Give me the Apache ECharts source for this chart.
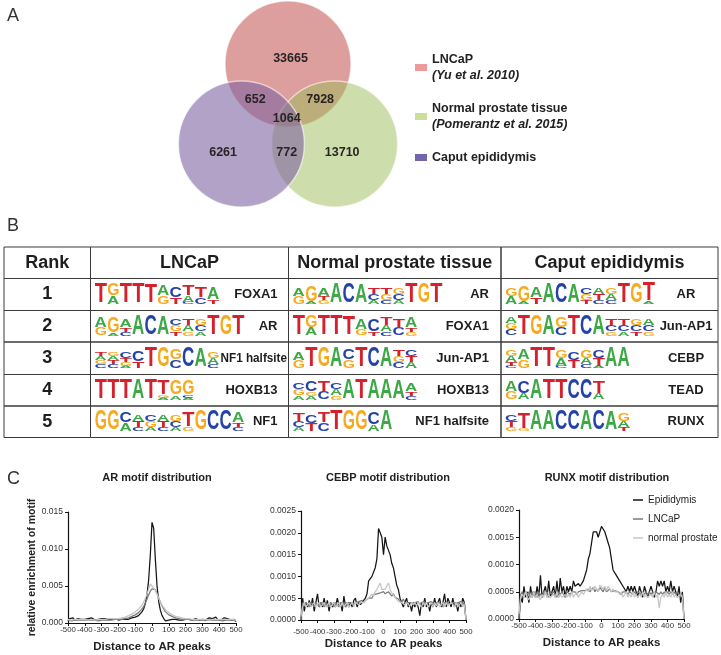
<!DOCTYPE html>
<html><head><meta charset="utf-8">
<script src="https://cdn.jsdelivr.net/npm/echarts@6/dist/echarts.min.js"></script>
<style>html,body{margin:0;padding:0;background:#fff}#c{width:721px;height:655px}</style>
</head><body><div id="c"></div>
<script>
// ---------------- DATA ----------------
// Panel A: Venn diagram
const vennSets = ['LNCaP', 'Normal prostate tissue', 'Caput epididymis'];
const vennRefs = ['(Yu et al. 2010)', '(Pomerantz et al. 2015)', ''];
// regions: LNCaP only, LNCaP∩Caput, LNCaP∩Normal, all three, Caput only, Caput∩Normal, Normal only
const vennRegionCounts = [33665, 652, 7928, 1064, 6261, 772, 13710];

// Panel B: motif table
const tableHeaders = ['Rank', 'LNCaP', 'Normal prostate tissue', 'Caput epididymis'];
const ranks = [1, 2, 3, 4, 5];
const lncapMotifs = ['FOXA1', 'AR', 'NF1 halfsite', 'HOXB13', 'NF1'];
const prostateMotifs = ['AR', 'FOXA1', 'Jun-AP1', 'HOXB13', 'NF1 halfsite'];
const epididymisMotifs = ['AR', 'Jun-AP1', 'CEBP', 'TEAD', 'RUNX'];
// sequence logos: positions separated by spaces, letters top->bottom with height in tenths
const lncapLogos = [
  'T10 G6A4 T10 T10 T9 A5G4 C5T3 T5A3C1 T5C3 A6T2',
  'A5G4 G8A1 A4T2C2 A10 C10 A9 C3G3T2 T3A3G2 G3C3A2 T10 G10 T10',
  'T2A2G2C2 G2A2T2C2 C3T2G2A1 C5T3 T10 G10 G5C4 C10 A9 G3A3C2',
  'T10 T10 T10 A10 T10 T7G1A1 G7A2 G7C1A1',
  'G10 G10 C5A4 A3T3C2 C3G3A2 A3T3C2 G3C3A2 T7G2 G10 C10 C10 A5T2C2'
];
const prostateLogos = [
  'A4G4 G8A1 A4T2G2 A10 C10 A9 T3C3A2 T3G3C2 G3C3A2 T10 G10 T10',
  'T10 G6A4 T10 T10 T9 A5G3 C6T2 T4A3C2 T4C4 A5T2G2',
  'A4G4 T10 G10 A10 C5G4 T10 C10 A10 T3G3C3 C3T3A3',
  'C3G3A2 C5G2A2 T5C4 C3A3G2 A10 T10 A10 A10 A9 A4T2C2',
  'T4C3A2 C4T4 T5C4 T10 G10 G10 C6A3 A10'
];
const epididymisLogos = [
  'G4A4 G8A1 A5T3 A10 C10 A9 C3G3T2 A3T3C2 G3A3C2 T10 G10 T9A1',
  'A3G3C3 T10 G10 A10 G5C4 T10 C10 A10 T3C3G2 T3C3A2 G3C3T2 A3C3G2',
  'G3A3T2C1 A5G4 T10 T10 G4A4C1 C4T4 G4A3C2 C4T4A1 A10 A10',
  'A5G4 C6A3 A10 T10 T10 C10 C10 T6A3',
  'C3T3G2 T8G1 A10 A10 C10 C10 A10 C10 A9 G4A3T2'
];

// Panel C: motif distributions
const distanceBins = [-500,-490,-480,-470,-460,-450,-440,-430,-420,-410,-400,-390,-380,-370,-360,-350,-340,-330,-320,-310,-300,-290,-280,-270,-260,-250,-240,-230,-220,-210,-200,-190,-180,-170,-160,-150,-140,-130,-120,-110,-100,-90,-80,-70,-60,-50,-40,-30,-20,-10,0,10,20,30,40,50,60,70,80,90,100,110,120,130,140,150,160,170,180,190,200,210,220,230,240,250,260,270,280,290,300,310,320,330,340,350,360,370,380,390,400,410,420,430,440,450,460,470,480,490,500];
const lineNames = ['Epididymis', 'LNCaP', 'normal prostate'];
const chartTitles = ['AR motif distribution', 'CEBP motif distribution', 'RUNX motif distribution'];

const arEpididymis = [0.0003,0.0006,0.0005,0.0007,0.0004,0.0005,0.0006,0.0004,0.0005,0.0006,
 0.0005,0.0004,0.0006,0.0005,0.0007,0.0005,0.0004,0.0006,0.0005,0.0004,
 0.0006,0.0005,0.0006,0.0004,0.0005,0.0007,0.0005,0.0004,0.0006,0.0005,
 0.0004,0.0006,0.0005,0.0007,0.0005,0.0006,0.0005,0.0006,0.0007,0.0006,
 0.0008,0.0009,0.0010,0.0012,0.0015,0.0019,0.0026,0.0038,0.0058,0.0092,
 0.0136,0.0128,0.0086,0.0050,0.0029,0.0017,0.0010,0.0006,0.0003,0.0002,
 0.0004,0.0003,0.0005,0.0004,0.0005,0.0006,0.0004,0.0005,0.0004,0.0006,
 0.0005,0.0004,0.0005,0.0006,0.0004,0.0005,0.0006,0.0005,0.0004,0.0006,
 0.0005,0.0006,0.0004,0.0005,0.0007,0.0005,0.0006,0.0005,0.0008,0.0005,
 0.0006,0.0004,0.0006,0.0007,0.0005,0.0006,0.0005,0.0004,0.0006,0.0005,
 0.0002];
const arLNCaP = [0.0004,0.0004,0.0003,0.0004,0.0004,0.0003,0.0004,0.0004,0.0004,0.0003,
 0.0004,0.0004,0.0004,0.0003,0.0004,0.0004,0.0004,0.0004,0.0003,0.0004,
 0.0004,0.0004,0.0004,0.0004,0.0004,0.0005,0.0004,0.0004,0.0005,0.0005,
 0.0005,0.0005,0.0005,0.0006,0.0006,0.0007,0.0007,0.0008,0.0009,0.0010,
 0.0011,0.0012,0.0014,0.0016,0.0019,0.0022,0.0027,0.0032,0.0038,0.0043,
 0.0046,0.0048,0.0045,0.0040,0.0034,0.0028,0.0023,0.0019,0.0015,0.0013,
 0.0011,0.0010,0.0009,0.0008,0.0007,0.0007,0.0006,0.0006,0.0005,0.0005,
 0.0005,0.0005,0.0005,0.0004,0.0004,0.0004,0.0004,0.0004,0.0004,0.0004,
 0.0004,0.0004,0.0004,0.0004,0.0004,0.0003,0.0004,0.0004,0.0004,0.0004,
 0.0004,0.0004,0.0003,0.0004,0.0004,0.0004,0.0004,0.0004,0.0004,0.0004,
 0.0003];
const arNormal = [0.0005,0.0005,0.0004,0.0005,0.0005,0.0004,0.0005,0.0005,0.0005,0.0004,
 0.0005,0.0005,0.0004,0.0005,0.0005,0.0005,0.0004,0.0005,0.0005,0.0005,
 0.0005,0.0005,0.0005,0.0005,0.0006,0.0005,0.0006,0.0006,0.0006,0.0006,
 0.0006,0.0007,0.0007,0.0008,0.0008,0.0009,0.0010,0.0011,0.0012,0.0013,
 0.0015,0.0017,0.0019,0.0021,0.0024,0.0028,0.0033,0.0039,0.0046,0.0053,
 0.0050,0.0047,0.0044,0.0039,0.0033,0.0028,0.0024,0.0021,0.0018,0.0016,
 0.0014,0.0012,0.0011,0.0010,0.0009,0.0008,0.0008,0.0007,0.0007,0.0006,
 0.0006,0.0006,0.0006,0.0005,0.0005,0.0005,0.0005,0.0005,0.0005,0.0005,
 0.0005,0.0005,0.0005,0.0005,0.0004,0.0005,0.0005,0.0005,0.0005,0.0004,
 0.0005,0.0005,0.0005,0.0004,0.0005,0.0005,0.0005,0.0004,0.0005,0.0005,
 0.0004];

const cebpEpididymis = [0.0000,0.0005,0.0002,0.0004,0.0003,0.00045,0.0003,0.0005,0.0002,0.0004,
 0.0006,0.0003,0.0004,0.0003,0.0005,0.0003,0.00045,0.0002,0.0004,0.0003,
 0.0004,0.0003,0.0005,0.00035,0.0004,0.0002,0.00055,0.0003,0.0004,0.0003,
 0.0004,0.0003,0.00045,0.0005,0.0003,0.0004,0.00035,0.0004,0.0004,0.0005,
 0.0006,0.0009,0.0009,0.0010,0.0010,0.0012,0.0014,0.0021,0.0020,0.0019,
 0.0015,0.0019,0.0017,0.0017,0.0015,0.0013,0.0012,0.0010,0.0008,0.0007,
 0.0005,0.0004,0.0003,0.0004,0.0005,0.0003,0.0004,0.0002,0.0004,0.0003,
 0.0004,0.0003,0.0001,0.0004,0.0003,0.0005,0.0003,0.0004,0.0002,0.0004,
 0.0003,0.0005,0.0003,0.0004,0.0005,0.0003,0.0004,0.0006,0.0003,0.0005,
 0.0004,0.0003,0.0005,0.0003,0.0004,0.0002,0.0004,0.0003,0.0005,0.0004,
 0.0000];
const cebpLNCaP = [0.0000,0.0004,0.00035,0.0004,0.0004,0.0003,0.0004,0.00038,0.0003,0.0004,
 0.0004,0.0003,0.0004,0.00042,0.0003,0.0004,0.00038,0.0003,0.0004,0.0004,
 0.0003,0.0004,0.0004,0.0003,0.0004,0.00042,0.00038,0.0003,0.0004,0.0004,
 0.0004,0.00042,0.00035,0.0004,0.0004,0.00042,0.0004,0.00045,0.0004,0.00045,
 0.00048,0.0005,0.00052,0.0005,0.00058,0.00055,0.0006,0.00058,0.00062,0.0006,
 0.00065,0.0006,0.00062,0.00065,0.0006,0.00055,0.0006,0.00052,0.0005,0.00048,
 0.00045,0.0004,0.00048,0.0004,0.00042,0.0004,0.00042,0.0004,0.00035,0.0004,
 0.0004,0.00042,0.00035,0.0004,0.0004,0.00042,0.00035,0.0004,0.0004,0.00042,
 0.0004,0.00035,0.0004,0.00042,0.0004,0.00038,0.0003,0.0004,0.00042,0.0004,
 0.00035,0.0004,0.00042,0.0004,0.00035,0.0004,0.0004,0.00042,0.00035,0.0004,
 0.0000];
const cebpNormal = [0.0001,0.0003,0.0004,0.0003,0.00035,0.0004,0.0003,0.00035,0.0004,0.0003,
 0.0003,0.0004,0.0003,0.00035,0.0004,0.0003,0.0003,0.0004,0.0003,0.00035,
 0.0004,0.0003,0.00035,0.0004,0.0003,0.0004,0.0003,0.00035,0.0004,0.0003,
 0.00035,0.0004,0.0003,0.0004,0.0004,0.00035,0.0004,0.00042,0.0004,0.00045,
 0.00045,0.0005,0.00055,0.0006,0.00055,0.00065,0.0007,0.00068,0.00085,0.0007,
 0.00072,0.0007,0.00078,0.00085,0.0007,0.00062,0.0006,0.00052,0.00048,0.00042,
 0.0004,0.0004,0.00042,0.00035,0.0004,0.0004,0.00032,0.0004,0.00035,0.0004,
 0.00032,0.0004,0.00035,0.0003,0.0004,0.00032,0.0004,0.0003,0.00035,0.0004,
 0.0003,0.0004,0.00032,0.0004,0.0003,0.00035,0.0004,0.0003,0.0004,0.00032,
 0.0003,0.0004,0.00035,0.0003,0.0004,0.0003,0.00035,0.0004,0.0003,0.00035,
 0.0000];

const runxEpididymis = [0.0000,0.0004,0.0003,0.0006,0.0004,0.0005,0.0003,0.0006,0.0004,0.0005,
 0.0004,0.0006,0.0004,0.0008,0.0004,0.0005,0.0006,0.0004,0.0007,0.0004,
 0.0005,0.0006,0.0004,0.0007,0.0004,0.00075,0.0005,0.0006,0.0004,0.0006,
 0.0005,0.0006,0.0005,0.0007,0.0006,0.0006,0.00065,0.0006,0.0006,0.0007,
 0.0007,0.0009,0.0011,0.0012,0.0014,0.0016,0.0016,0.0016,0.0015,0.0016,
 0.0017,0.0017,0.0016,0.0016,0.0014,0.0013,0.0011,0.0009,0.0009,0.0008,
 0.0008,0.0007,0.0007,0.0006,0.0006,0.0005,0.0006,0.0005,0.0006,0.0005,
 0.0006,0.0005,0.0004,0.0006,0.0005,0.0004,0.0006,0.0005,0.0004,0.0005,
 0.0006,0.0005,0.0004,0.0005,0.0007,0.0006,0.0007,0.0006,0.0007,0.0005,
 0.0006,0.0005,0.0007,0.0005,0.0006,0.0005,0.0004,0.0006,0.0003,0.0005,
 0.0000];
const runxLNCaP = [0.0000,0.00045,0.0005,0.0004,0.0005,0.00045,0.0005,0.0004,0.0005,0.00045,
 0.0005,0.0004,0.0005,0.0005,0.0004,0.0005,0.00045,0.0005,0.0004,0.0005,
 0.00045,0.0005,0.0005,0.0004,0.0005,0.00045,0.0005,0.0005,0.0004,0.0005,
 0.0005,0.00045,0.0005,0.0005,0.0005,0.00045,0.0005,0.0005,0.00052,0.0005,
 0.00052,0.0005,0.00055,0.0005,0.00052,0.00058,0.0005,0.00055,0.0005,0.00058,
 0.00055,0.0005,0.00058,0.0005,0.00052,0.00055,0.0005,0.0005,0.00052,0.0005,
 0.0005,0.0005,0.00045,0.0005,0.0005,0.0005,0.00045,0.0005,0.0005,0.00045,
 0.0005,0.00045,0.0005,0.0005,0.00045,0.0005,0.00045,0.0005,0.00045,0.0005,
 0.00045,0.0005,0.00045,0.0005,0.0005,0.00045,0.0005,0.00045,0.0005,0.00045,
 0.0005,0.00045,0.0005,0.00045,0.0005,0.00045,0.0005,0.00045,0.0004,0.00045,
 0.0000];
const runxNormal = [0.0001,0.0004,0.00045,0.0004,0.0005,0.0004,0.00035,0.00045,0.0004,0.0005,
 0.0004,0.00045,0.0004,0.00035,0.00045,0.0004,0.0005,0.0004,0.00045,0.0004,
 0.0004,0.00045,0.0004,0.0005,0.0004,0.00045,0.0004,0.0004,0.00045,0.0004,
 0.00045,0.0004,0.0005,0.0004,0.00045,0.0005,0.0004,0.00045,0.0005,0.00045,
 0.0005,0.00055,0.0005,0.0006,0.00052,0.00055,0.0006,0.00055,0.0005,0.00062,
 0.00065,0.00055,0.0006,0.00052,0.0006,0.00055,0.0005,0.00055,0.0005,0.00052,
 0.0005,0.00045,0.0005,0.0004,0.00045,0.0005,0.0004,0.00045,0.0004,0.0005,
 0.0004,0.00045,0.0004,0.00045,0.0004,0.0005,0.0004,0.00045,0.0004,0.0004,
 0.00045,0.0004,0.0005,0.0004,0.00045,0.0002,0.0004,0.00045,0.0004,0.0005,
 0.0004,0.00045,0.0004,0.0005,0.0004,0.00045,0.0004,0.0004,0.00045,0.0004,
 0.0000];

// ---------------- LAYOUT / STYLE ----------------
const FF = '"Liberation Sans", Arial, Helvetica, sans-serif';
const vennCircleCenters = [[0, 1.27], [0.74, 0], [-0.74, 0]]; // LNCaP, Normal, Caput (unit = radius)
const vennFill = ['rgba(192,80,77,0.55)', 'rgba(155,187,89,0.5)', 'rgba(128,100,162,0.6)'];
const vennLegendColors = ['#ee9a9c', '#cadf9a', '#7466ac'];
const vennLabelPos = [[0.04, 1.35], [-0.52, 0.70], [0.51, 0.70], [-0.02, 0.41], [-1.03, -0.13], [-0.02, -0.13], [0.86, -0.13]];

const colEdges = [0, 86.5, 284.5, 497, 714];
const rowEdges = [0, 31.5, 63.5, 95, 127.5, 159, 190.5];
const labelAnchor = [null, {align: 'right', off: -11}, {align: 'right', off: -12}, {align: 'center', off: -32}];
const LOGO_COLORS = {A: '#3ca846', C: '#2542a8', G: '#f6aa1f', T: '#d6202b'};
const LOGO_ADV = {A: 0.722, C: 0.722, G: 0.778, T: 0.611};
const motifSets = [lncapMotifs, prostateMotifs, epididymisMotifs];
const logoSets = [lncapLogos, prostateLogos, epididymisLogos];
const lineColors = ['#151515', '#7a7a7a', '#c6c6c6'];

const measureCtx = document.createElement('canvas').getContext('2d');
function textWidth(t, font) { measureCtx.font = font; return measureCtx.measureText(t).width; }

function logoElements(str, left, bottom, posW, fullH) {
  const els = [];
  str.split(' ').forEach((tok, j) => {
    const letters = [...tok.matchAll(/([ACGT])(\d+)/g)].map(m => [m[1], +m[2]]);
    let yb = bottom;
    for (let k = letters.length - 1; k >= 0; k--) {
      const L = letters[k][0], h = letters[k][1] / 10 * fullH;
      els.push({
        type: 'text', silent: true,
        x: left + j * posW + posW / 2, y: yb - h / 2,
        scaleX: posW * 0.98 / (LOGO_ADV[L] * 40), scaleY: h / (0.716 * 40),
        style: {text: L, fill: LOGO_COLORS[L], font: 'bold 40px ' + FF, align: 'center', verticalAlign: 'middle'}
      });
      yb -= h;
    }
  });
  return els;
}

function tableRender(params, api) {
  const c = api.value(0), r = api.value(1);
  const p0 = api.coord([colEdges[c], rowEdges[r]]);
  const p1 = api.coord([colEdges[c + 1], rowEdges[r + 1]]);
  const x0 = p0[0], y0 = p0[1], x1 = p1[0], y1 = p1[1];
  const cy = (y0 + y1) / 2;
  const kids = [{type: 'rect', shape: {x: x0, y: y0, width: x1 - x0, height: y1 - y0},
    style: {fill: 'none', stroke: '#3a3a3a', lineWidth: 1}}];
  const bigFont = 'bold 18px ' + FF;
  if (r === 0) {
    kids.push({type: 'text', x: (x0 + x1) / 2, y: cy, style: {text: tableHeaders[c], font: bigFont, fill: '#1e1e1e', align: 'center', verticalAlign: 'middle'}});
  } else if (c === 0) {
    kids.push({type: 'text', x: (x0 + x1) / 2, y: cy, style: {text: String(ranks[r - 1]), font: bigFont, fill: '#1e1e1e', align: 'center', verticalAlign: 'middle'}});
  } else {
    const posW = api.size([12.5, 0])[0];
    const fullH = api.size([0, 20])[1];
    const logo = logoSets[c - 1][r - 1];
    const nPos = logo.split(' ').length;
    const left = x0 + 4;
    kids.push(...logoElements(logo, left, y1 - 6, posW, fullH));
    const logoEnd = left + nPos * posW;
    const label = motifSets[c - 1][r - 1];
    const lf = 'bold 13px ' + FF;
    const w = textWidth(label, lf);
    const an = labelAnchor[c];
    let lx = an.align === 'right' ? x1 + an.off - w : x1 + an.off - w / 2;
    if (lx < logoEnd + 1) lx = logoEnd + 1;
    const avail = x1 - 1.5 - lx;
    const sx = Math.min(1, avail / w);
    kids.push({type: 'text', x: lx, y: cy, scaleX: sx, style: {text: label, font: lf, fill: '#1e1e1e', align: 'left', verticalAlign: 'middle'}});
  }
  return {type: 'group', children: kids};
}

const tableData = [];
for (let r = 0; r <= ranks.length; r++) for (let c = 0; c < tableHeaders.length; c++) tableData.push([c, r]);

// ---------------- CHART GRIDS ----------------
const chartGrids = [
  {left: 68, top: 512, width: 168, height: 111},
  {left: 301, top: 511, width: 165, height: 109},
  {left: 519, top: 510, width: 165, height: 109}
];
const yMax = [0.015, 0.0025, 0.002];
const yInt = [0.005, 0.0005, 0.0005];
const yDec = [3, 4, 4];
const xLabelMargin = [3, 8, 3];
const seriesByChart = [
  [arEpididymis, arLNCaP, arNormal],
  [cebpEpididymis, cebpLNCaP, cebpNormal],
  [runxEpididymis, runxLNCaP, runxNormal]
];

const axisCol = '#111';
const xAxes = [
  {gridIndex: 0, type: 'value', min: -2, max: 2, show: false},
  {gridIndex: 1, type: 'value', min: 0, max: 714, show: false}
];
const yAxes = [
  {gridIndex: 0, type: 'value', min: -1.2, max: 2.25, show: false},
  {gridIndex: 1, type: 'value', min: 0, max: 190.5, inverse: true, show: false}
];
chartGrids.forEach((g, i) => {
  xAxes.push({
    gridIndex: i + 2, type: 'value', min: -500, max: 500, interval: 100,
    axisLine: {onZero: false, lineStyle: {color: axisCol, width: 1.2}},
    axisTick: {show: true, length: 3, lineStyle: {color: axisCol, width: 1}},
    axisLabel: {fontSize: 7.8, color: '#333', margin: xLabelMargin[i], fontFamily: FF, hideOverlap: false, showMinLabel: true, showMaxLabel: true},
    splitLine: {show: false},
    name: 'Distance to AR peaks', nameLocation: 'middle', nameGap: 18,
    nameTextStyle: {fontSize: 11.5, fontWeight: 'bold', color: '#222', fontFamily: FF}
  });
  const ya = {
    gridIndex: i + 2, type: 'value', min: 0, max: yMax[i], interval: yInt[i],
    axisLine: {show: true, onZero: false, lineStyle: {color: axisCol, width: 1.2}},
    axisTick: {show: true, length: 3, lineStyle: {color: axisCol, width: 1}},
    axisLabel: {fontSize: 8.5, color: '#333', margin: 5, fontFamily: FF, showMinLabel: true, showMaxLabel: true, formatter: v => v.toFixed(yDec[i])},
    splitLine: {show: false}
  };
  if (i === 0) {
    ya.name = 'relative enrichment of motif';
    ya.nameLocation = 'middle';
    ya.nameGap = 29;
    ya.nameTextStyle = {fontSize: 10.5, fontWeight: 'bold', color: '#222', fontFamily: FF};
  }
  yAxes.push(ya);
});

// ---------------- SERIES ----------------
const series = [];
vennSets.forEach((s, i) => {
  series.push({
    type: 'custom', name: 'venn' + i, xAxisIndex: 0, yAxisIndex: 0, silent: true,
    itemStyle: {color: vennLegendColors[i]},
    data: [[vennCircleCenters[i][0], vennCircleCenters[i][1], 1]],
    renderItem: (params, api) => {
      const c = api.coord([api.value(0), api.value(1)]);
      const r = api.size([api.value(2), 0])[0];
      return {type: 'circle', shape: {cx: c[0], cy: c[1], r: r},
        style: {fill: vennFill[i], stroke: 'rgba(255,255,255,0.55)', lineWidth: 1.5}};
    }
  });
});
series.push({
  type: 'custom', name: 'vennCounts', xAxisIndex: 0, yAxisIndex: 0, silent: true, z: 5,
  data: vennLabelPos.map((p, i) => [p[0], p[1], vennRegionCounts[i]]),
  renderItem: (params, api) => {
    const c = api.coord([api.value(0), api.value(1)]);
    return {type: 'text', x: c[0], y: c[1], style: {text: String(api.value(2)), font: 'bold 12.5px ' + FF, fill: '#2a2326', align: 'center', verticalAlign: 'middle'}};
  }
});
series.push({
  type: 'custom', name: 'motifTable', xAxisIndex: 1, yAxisIndex: 1, silent: true,
  data: tableData, renderItem: tableRender
});
seriesByChart.forEach((arr, ci) => {
  arr.forEach((vals, si) => {
    series.push({
      type: 'line', name: lineNames[si], xAxisIndex: ci + 2, yAxisIndex: ci + 2,
      data: distanceBins.map((x, k) => [x, vals[k]]),
      symbol: 'none', showSymbol: false, silent: true,
      itemStyle: {color: lineColors[si]},
      lineStyle: {color: lineColors[si], width: 1.25}
    });
  });
});

const option = {
  animation: false,
  backgroundColor: '#ffffff',
  textStyle: {fontFamily: FF},
  title: [
    {text: 'A', left: 2, top: 2, textStyle: {fontSize: 18, fontWeight: 'normal', color: '#333', fontFamily: FF}},
    {text: 'B', left: 2, top: 212, textStyle: {fontSize: 18, fontWeight: 'normal', color: '#333', fontFamily: FF}},
    {text: 'C', left: 2, top: 465, textStyle: {fontSize: 18, fontWeight: 'normal', color: '#333', fontFamily: FF}},
    {text: chartTitles[0], left: 152, top: 467, textAlign: 'center', textStyle: {fontSize: 11, fontWeight: 'bold', color: '#222', fontFamily: FF}},
    {text: chartTitles[1], left: 383, top: 467, textAlign: 'center', textStyle: {fontSize: 11, fontWeight: 'bold', color: '#222', fontFamily: FF}},
    {text: chartTitles[2], left: 602, top: 467, textAlign: 'center', textStyle: {fontSize: 11, fontWeight: 'bold', color: '#222', fontFamily: FF}}
  ],
  legend: [
    {
      data: vennSets.map((s, i) => ({name: 'venn' + i, itemStyle: {color: vennLegendColors[i], opacity: 1, borderWidth: 0}})),
      orient: 'vertical', left: 415, top: 53, padding: 0, icon: 'rect', itemWidth: 12, itemHeight: 7, itemGap: 20,
      selectedMode: false,
      formatter: name => {
        const i = +name.slice(4);
        return vennRefs[i] ? '{n|' + vennSets[i] + '}\n{i|' + vennRefs[i] + '}' : '{n|' + vennSets[i] + '}';
      },
      textStyle: {rich: {
        n: {fontWeight: 'bold', fontSize: 12.5, color: '#222', lineHeight: 16, fontFamily: FF},
        i: {fontWeight: 'bold', fontStyle: 'italic', fontSize: 12.5, color: '#222', lineHeight: 16, fontFamily: FF}
      }}
    },
    {
      data: lineNames.map((n, i) => ({name: n, itemStyle: {color: lineColors[i]}})),
      orient: 'vertical', left: 633, top: 495, padding: 0, icon: 'rect', itemWidth: 10, itemHeight: 1.5, itemGap: 9,
      selectedMode: false,
      textStyle: {fontSize: 10, color: '#222', fontFamily: FF}
    }
  ],
  grid: [
    {left: 162, top: 2.25, width: 252, height: 217.35},
    {left: 4, top: 247, width: 714, height: 190.5},
    ...chartGrids
  ],
  xAxis: xAxes,
  yAxis: yAxes,
  series: series
};

const chart = echarts.init(document.getElementById('c'), null, {renderer: 'canvas'});
chart.setOption(option);
</script>
</body></html>
